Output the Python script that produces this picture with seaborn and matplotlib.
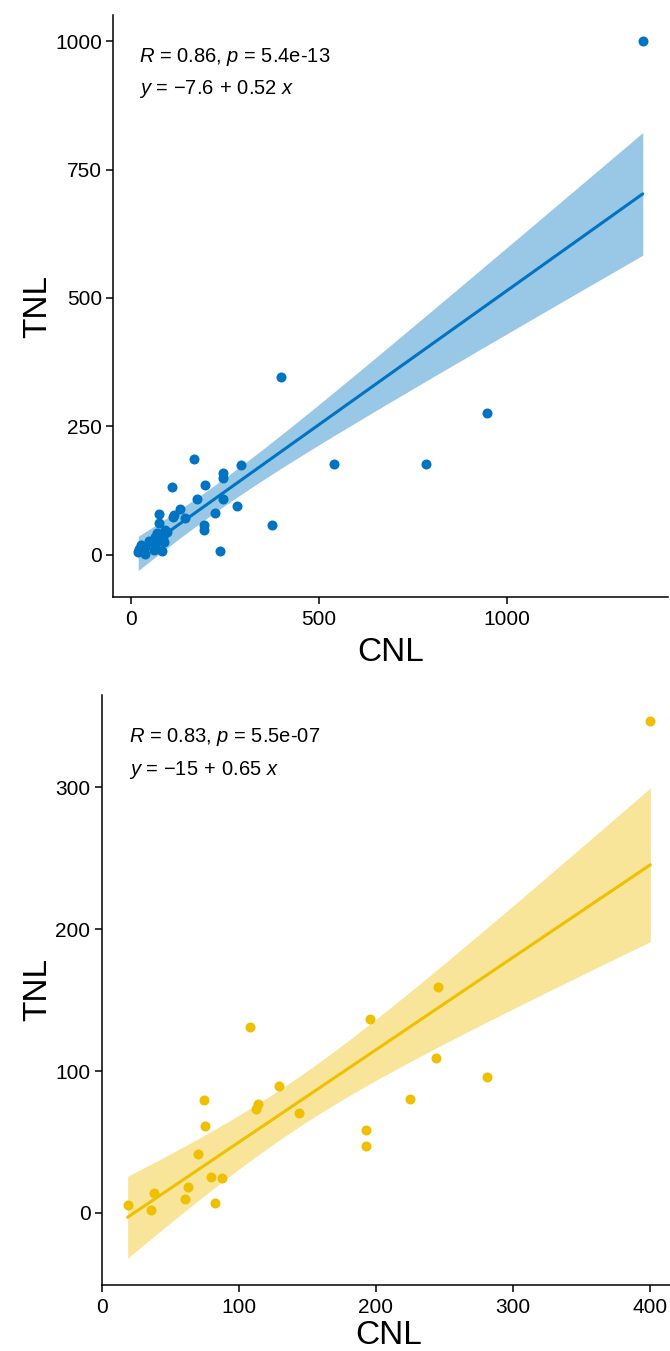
import numpy as np
import pandas as pd
import matplotlib
matplotlib.use("Agg")
import matplotlib.pyplot as plt
import seaborn as sns

# ---- data -------------------------------------------------------------
# subgroup (yellow panel)
cnl_sub = [19, 36, 38, 61, 63, 70, 75, 75.5, 80, 83, 88, 108, 112.5, 114,
           129, 144, 193, 193, 196, 224.5, 244, 245, 281, 400]
tnl_sub = [5.6, 2.1, 14.3, 9.7, 18.6, 41.4, 79.7, 61.4, 25.6, 7.3, 24.9, 131,
           73, 77, 89.6, 70.4, 58.6, 47.3, 136.5, 80.5, 109, 159, 95.5, 346.5]

# remaining samples (together with the subgroup they form the blue panel)
cnl_rest = [90.5, 64, 86.2, 27.4, 47.7, 22.2, 95.5, 168.1, 174.4,
            292.7, 245.9, 374.7, 236.6, 539.5, 785.3, 948.6, 1361.9]
tnl_rest = [47.4, 34.7, 34.9, 18.9, 25.9, 11.2, 44.6, 186, 107.7,
            174.1, 149.6, 58.4, 7, 177.4, 177, 276.4, 999.4]

x_ticks_all = [0, 500, 1000]
y_ticks_all = [0, 250, 500, 750, 1000]
x_ticks_sub = [0, 100, 200, 300, 400]
y_ticks_sub = [0, 100, 200, 300]

label_all = [r"$\it{R}$ = 0.86, $\it{p}$ = 5.4e-13",
             r"$\it{y}$ = $-$7.6$\,+\,$0.52 $\it{x}$"]
label_sub = [r"$\it{R}$ = 0.83, $\it{p}$ = 5.5e-07",
             r"$\it{y}$ = $-$15$\,+\,$0.65 $\it{x}$"]

BLUE = "#0073C2"
YELLOW = "#EFC000"

df_all = pd.DataFrame({"CNL": cnl_sub + cnl_rest, "TNL": tnl_sub + tnl_rest})
df_sub = pd.DataFrame({"CNL": cnl_sub, "TNL": tnl_sub})

# ---- style ------------------------------------------------------------
sns.set_theme(style="ticks")
plt.rcParams["font.family"] = ["Liberation Sans", "DejaVu Sans"]
plt.rcParams["mathtext.fontset"] = "custom"
plt.rcParams["mathtext.rm"] = "Liberation Sans"
plt.rcParams["mathtext.it"] = "Liberation Sans:italic"
plt.rcParams["axes.linewidth"] = 1.1
plt.rcParams["text.color"] = "black"
plt.rcParams["axes.labelcolor"] = "black"


def t975(df):
    """97.5% quantile of Student's t (Cornish-Fisher expansion)."""
    z = 1.959964
    return (z + (z**3 + z) / (4 * df)
            + (5 * z**5 + 16 * z**3 + 3 * z) / (96 * df**2)
            + (3 * z**7 + 19 * z**5 + 17 * z**3 - 15 * z) / (384 * df**3))


def lm_band(x, y, n=80):
    """Pointwise 95% confidence band of a least-squares line."""
    x = np.asarray(x, float)
    y = np.asarray(y, float)
    b, a = np.polyfit(x, y, 1)
    resid = y - (a + b * x)
    s = np.sqrt(np.sum(resid**2) / (len(x) - 2))
    xs = np.linspace(x.min(), x.max(), n)
    se = s * np.sqrt(1 / len(x) + (xs - x.mean())**2 / np.sum((x - x.mean())**2))
    fit = a + b * xs
    q = t975(len(x) - 2)
    return xs, fit - q * se, fit + q * se


def panel(ax, data, color, xticks, yticks, labels, xlabelpad):
    xs, lo, hi = lm_band(data["CNL"], data["TNL"])
    ax.fill_between(xs, lo, hi, color=color, alpha=0.4, linewidth=0, zorder=1)
    sns.regplot(data=data, x="CNL", y="TNL", ax=ax, ci=None, color=color,
                scatter_kws={"s": 52, "alpha": 1, "linewidths": 0, "zorder": 2},
                line_kws={"linewidth": 2.2, "zorder": 3})
    # 5% padding around data and band, as in ggplot
    xmin, xmax = data["CNL"].min(), data["CNL"].max()
    ymin = min(data["TNL"].min(), lo.min())
    ymax = max(data["TNL"].max(), hi.max())
    ax.set_xlim(xmin - 0.05 * (xmax - xmin), xmax + 0.05 * (xmax - xmin))
    ax.set_ylim(ymin - 0.05 * (ymax - ymin), ymax + 0.05 * (ymax - ymin))
    ax.set_xticks(xticks)
    ax.set_yticks(yticks)
    ax.tick_params(axis="both", labelsize=15, colors="black", length=5,
                   width=1.1, direction="out")
    ax.tick_params(axis="x", pad=4.5)
    ax.tick_params(axis="y", pad=3)
    ax.set_xlabel("CNL", fontsize=24, labelpad=xlabelpad)
    ax.set_ylabel("TNL", fontsize=24, labelpad=1.5)
    sns.despine(ax=ax)
    for sp in ("left", "bottom"):
        ax.spines[sp].set_color("black")
    ax.text(0.047, 0.928, labels[0], transform=ax.transAxes, fontsize=14.5,
            va="center", ha="left")
    ax.text(0.047, 0.872, labels[1], transform=ax.transAxes, fontsize=14.5,
            va="center", ha="left")


fig = plt.figure(figsize=(6.70, 13.51), dpi=100)
ax_top = fig.add_axes([113 / 670, 1 - 597 / 1351, 555 / 670, 582 / 1351])
ax_bot = fig.add_axes([101.5 / 670, 1 - 1285 / 1351, 575 / 670, 590.5 / 1351])

panel(ax_top, df_all, BLUE, x_ticks_all, y_ticks_all, label_all, 5.5)
panel(ax_bot, df_sub, YELLOW, x_ticks_sub, y_ticks_sub, label_sub, 2)

fig.savefig("out.png", dpi=100, facecolor="white")
